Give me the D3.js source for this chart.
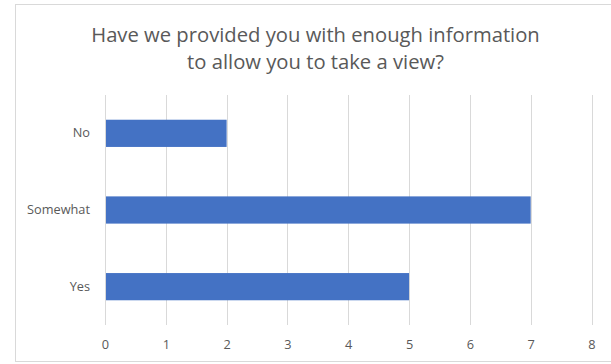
<!DOCTYPE html>
<html>
<head>
<meta charset="utf-8">
<script src="https://cdn.jsdelivr.net/npm/d3@7"></script>
<style>
  html, body { margin: 0; padding: 0; background: #fff; }
  svg { display: block; }
</style>
</head>
<body>
<svg id="chart" width="611" height="364"></svg>
<script>
// Survey responses
const categories = ["No", "Somewhat", "Yes"];
const counts = [2, 7, 5];
const xTicks = [0, 1, 2, 3, 4, 5, 6, 7, 8];
const titleLines = ["Have we provided you with enough information", "to allow you to take a view?"];

const W = 611, H = 364;
const svg = d3.select("#chart");
const font = "'Open Sans', 'Noto Sans', sans-serif";

// chart frame (right edge runs past the viewport)
svg.append("rect")
  .attr("x", 15.5).attr("y", 4.5)
  .attr("width", 620).attr("height", 357)
  .attr("fill", "#fff").attr("stroke", "#d9d9d9").attr("stroke-width", 1);

const plot = { left: 105, right: 591.5, top: 95, bottom: 325 };

const x = d3.scaleLinear().domain([0, 8]).range([plot.left, plot.right]);
const y = d3.scaleBand().domain(categories).range([plot.top, plot.bottom]).paddingInner(0.645).paddingOuter(0.3225);

// gridlines
svg.append("g").selectAll("line").data(xTicks).join("line")
  .attr("x1", d => Math.round(x(d)) + 0.5).attr("x2", d => Math.round(x(d)) + 0.5)
  .attr("y1", plot.top).attr("y2", plot.bottom)
  .attr("stroke", "#d9d9d9").attr("stroke-width", 1);

// bars
svg.append("g").selectAll("rect").data(categories).join("rect")
  .attr("x", x(0) + 1)
  .attr("y", d => y(d))
  .attr("width", (d, i) => x(counts[i]) - x(0) - 1)
  .attr("height", y.bandwidth())
  .attr("fill", "#4472c4");

// fit a text group's font size so a reference string spans the given width
function fitFont(sel, sample, width, base) {
  const probe = svg.append("text").attr("font-family", font).attr("font-size", base).text(sample);
  const w = probe.node().getComputedTextLength();
  probe.remove();
  sel.attr("font-size", base * width / w);
}

// x axis labels
const xAxis = d3.axisBottom(x).tickValues(xTicks).tickSize(0).tickPadding(0);
const gx = svg.append("g").attr("transform", `translate(0,${plot.bottom + 15})`).call(xAxis);
gx.select(".domain").remove();
gx.selectAll("text").attr("font-family", font).attr("fill", "#595959");

// y axis labels
const yAxis = d3.axisLeft(y).tickSize(0).tickPadding(15);
const gy = svg.append("g").attr("transform", `translate(${plot.left},0)`).call(yAxis);
gy.select(".domain").remove();
gy.selectAll("text").attr("font-family", font).attr("fill", "#595959");
fitFont(gy.selectAll("text"), "Somewhat", 63, 12);
fitFont(gx.selectAll("text"), "Somewhat", 63, 12);

// title
const title = svg.append("g");
const tt = title.selectAll("text").data(titleLines).join("text")
  .attr("x", 315.5)
  .attr("y", (d, i) => 41.5 + i * 27)
  .attr("text-anchor", "middle")
  .attr("font-family", font)
  .attr("fill", "#595959")
  .text(d => d);
fitFont(tt, titleLines[0], 449, 18);
</script>
</body>
</html>
